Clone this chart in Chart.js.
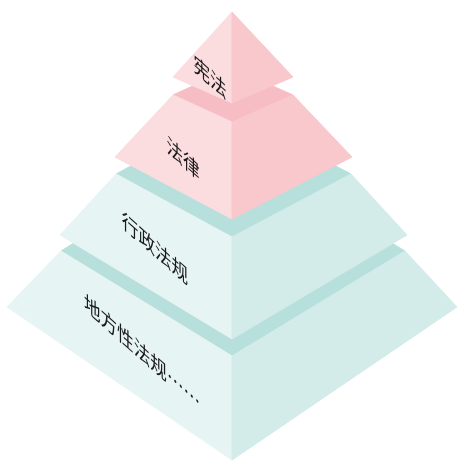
<!DOCTYPE html>
<html>
<head>
<meta charset="utf-8">
<script src="https://cdn.jsdelivr.net/npm/chart.js@4.4.1/dist/chart.umd.min.js"></script>
<style>
  html, body { margin: 0; padding: 0; background: #fff; }
  #pyramid { display: block; }
</style>
</head>
<body>
<canvas id="pyramid" width="457" height="461"></canvas>
<script>
// tiers from the top down
const tiers = ['宪法', '法律', '行政法规', '地方性法规……'];

// corners of every tier in axis units [x, y]
// (the first tier is a point, so its upper rim is the apex)
const topLeft   = [[232, 12], [173, 95],  [116, 174], [61, 251]];
const topFront  = [[232, 12], [232, 122], [232, 237], [232, 356]];
const topRight  = [[232, 12], [293, 95],  [351, 174], [405, 251]];
const topBack   = [[232, 12], [232, 68],  [232, 111], [232, 145]];
const baseLeft  = [[173, 77], [115, 157], [60, 235],  [7, 307]];
const baseFront = [[232, 103], [232, 219], [232, 339], [232, 460]];
const baseRight = [[293, 77], [352, 157], [407, 235], [457, 307]];

const pink = { top: '#f6bdc4', left: '#fbdcdf', right: '#f8c8cc' }
const teal = { top: '#b7e0dc', left: '#e6f4f3', right: '#d3ece9' }
const palette = [pink, pink, teal, teal]

// where each label sits (centre) on the left face
const labelAt = [[210, 77], [183, 158], [155, 248], [142, 352]]

const pt = ([x, y]) => ({ x, y })

const face = (corners, color, order) => ({
  data: [...corners, corners[0]].map(pt),
  backgroundColor: color,
  borderColor: color,
  borderWidth: 1,
  pointRadius: 0,
  tension: 0,
  fill: 'shape',
  order: order
})

const datasets = []
let order = 100
for (let i = tiers.length - 1; i >= 0; i--) {
  const c = palette[i]
  if (i > 0) datasets.push(face([topLeft[i], topBack[i], topRight[i], topFront[i]], c.top, order--))
  datasets.push(face([topLeft[i], topFront[i], baseFront[i], baseLeft[i]], c.left, order--))
  datasets.push(face([topFront[i], topRight[i], baseRight[i], baseFront[i]], c.right, order--))
}

const faceLabels = {
  id: 'faceLabels',
  afterDatasetsDraw(chart) {
    const { ctx, scales: { x, y } } = chart
    ctx.save()
    ctx.fillStyle = '#1a1a1a'
    ctx.font = '21px "Noto Sans CJK SC", "Noto Sans", sans-serif'
    ctx.textAlign = 'center'
    ctx.textBaseline = 'middle'
    tiers.forEach((name, i) => {
      ctx.save()
      ctx.translate(x.getPixelForValue(labelAt[i][0]), y.getPixelForValue(labelAt[i][1]))
      ctx.transform(0.79, 0.7, 0, 1, 0, 0)
      ctx.fillText(name, 0, 0)
      ctx.restore()
    })
    ctx.restore()
  }
}

new Chart(document.getElementById('pyramid'), {
  type: 'line',
  data: { datasets },
  options: {
    responsive: false,
    animation: false,
    devicePixelRatio: 1,
    layout: { padding: 0 },
    plugins: { legend: { display: false }, tooltip: { enabled: false } },
    scales: {
      x: { type: 'linear', display: false, min: 0, max: 457 },
      y: { type: 'linear', display: false, min: 0, max: 461, reverse: true }
    }
  },
  plugins: [faceLabels]
})
</script>
</body>
</html>
